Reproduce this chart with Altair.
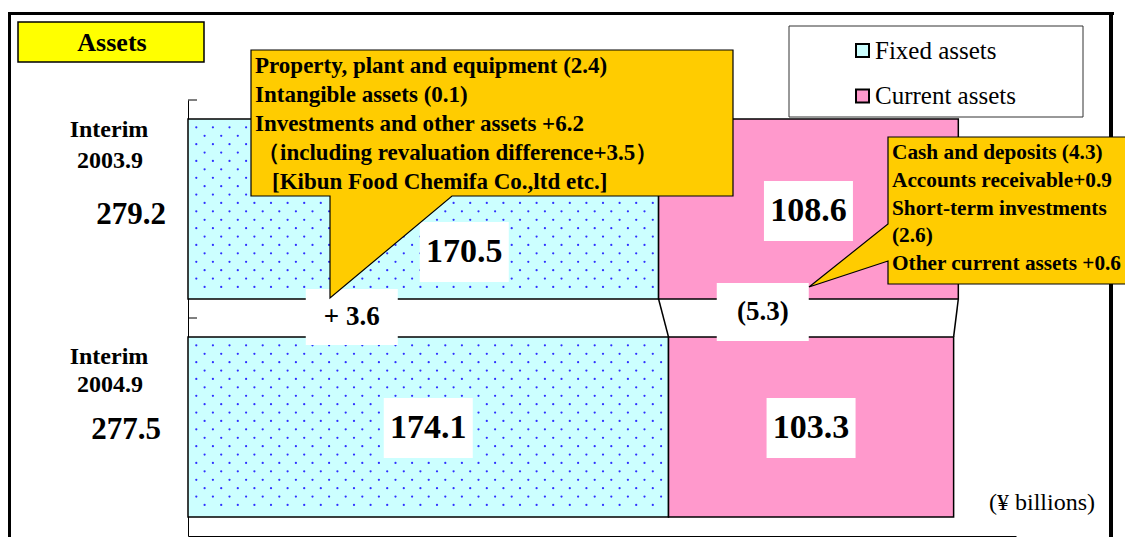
import altair as alt
import pandas as pd
import numpy as np

# ---------------- data ----------------
periods = ["2003.9", "2004.9"]
period_word = ["Interim", "Interim"]
segments = ["Fixed assets", "Current assets"]
fixed_assets = [170.5, 174.1]
current_assets = [108.6, 103.3]
totals = ["279.2", "277.5"]
change_labels = ["+ 3.6", "(5.3)"]          # fixed, current
callout_fixed = [
    "Property, plant and equipment (2.4)",
    "Intangible assets (0.1)",
    "Investments and other assets +6.2",
    "（including revaluation difference+3.5）",
    "[Kibun Food Chemifa Co.,ltd etc.]",
]
callout_current = [
    "Cash and deposits (4.3)",
    "Accounts receivable+0.9",
    "Short-term investments",
    "(2.6)",
    "Other current assets +0.6",
]
title_text = "Assets"
unit_text = "(¥ billions)"

# ---------------- layout / style ----------------
W, H = 828, 436
X_MAX = 300
PAD = 0.087                      # band padding (fraction of a band)
FONT = "Liberation Serif"
C_FIXED, C_CURR = "#CCFFFF", "#FF99CC"
C_CALLOUT = "#FFCC00"

xs = alt.Scale(domain=[0, X_MAX], nice=False, zero=True)
ys = alt.Scale(domain=[0, 2], reverse=True, nice=False, zero=True)


def X(f):
    return alt.X(f, type="quantitative", scale=xs, title=None)


def Y(f):
    return alt.Y(f, type="quantitative", scale=ys, title=None)


one = pd.DataFrame({"a": [0]})

# bars
rows = []
for i, p in enumerate(periods):
    f, c = fixed_assets[i], current_assets[i]
    rows.append(dict(period=p, segment=segments[0], start=0.0, end=f,
                     top=i + PAD, bottom=i + 1 - PAD))
    rows.append(dict(period=p, segment=segments[1], start=f, end=f + c,
                     top=i + PAD, bottom=i + 1 - PAD))
bars_df = pd.DataFrame(rows)

bars = alt.Chart(bars_df).mark_rect(stroke="black", strokeWidth=1.5).encode(
    x=X("start"), x2="end",
    y=Y("top"), y2="bottom",
    fill=alt.Fill("segment:N",
                  scale=alt.Scale(domain=segments, range=[C_FIXED, C_CURR]),
                  legend=alt.Legend(title=None, orient="none", legendX=662, legendY=-62,
                                    direction="vertical", symbolType="square",
                                    symbolSize=169, symbolStrokeColor="black",
                                    symbolStrokeWidth=2, labelFont=FONT,
                                    labelFontSize=25, labelColor="black",
                                    labelOffset=0, rowPadding=19.5, padding=0)),
)

# dotted texture inside the fixed-asset bars
XSTEP = 16.6 / (W / X_MAX)
YSTEP = 8.4 / (H / 2)
tex = []
for i, f in enumerate(fixed_assets):
    top, bottom = i + PAD, i + 1 - PAD
    k = 0
    while top + YSTEP * (k + 1) < bottom - YSTEP * 0.5:
        yy = top + YSTEP * (k + 1)
        j = 0
        while True:
            xx = XSTEP * (0.5 + j + 0.5 * (k % 2))
            if xx > f - XSTEP * 0.2:
                break
            tex.append(dict(x=xx, y=yy))
            j += 1
        k += 1
tex_df = pd.DataFrame(tex)
dots = alt.Chart(tex_df).mark_circle(size=5, color="#2f2fff", opacity=1).encode(
    x=X("x"), y=Y("y"))

# series lines between the bars
sl_df = pd.DataFrame({
    "x": [fixed_assets[0], fixed_assets[0] + current_assets[0]],
    "x2": [fixed_assets[1], fixed_assets[1] + current_assets[1]],
    "y": [1 - PAD, 1 - PAD],
    "y2": [1 + PAD, 1 + PAD],
})
series_lines = alt.Chart(sl_df).mark_rule(color="black", strokeWidth=1.5).encode(
    x=X("x"), x2="x2", y=Y("y"), y2="y2")

# inward ticks on the category axis
ticks = alt.Chart(pd.DataFrame({"t": [0, 1]})).mark_rule(color="black", strokeWidth=1).encode(
    y=Y("t"), x=alt.value(0), x2=alt.value(9))


def boxed_label(xv, yv, text, dx, dy, size, bw, bh):
    d = pd.DataFrame({"x": [xv], "y": [yv], "t": [text]})
    base = alt.Chart(d).encode(x=X("x"), y=Y("y"))
    box = base.mark_rect(width=bw, height=bh, fill="white", xOffset=dx, yOffset=dy)
    txt = base.mark_text(font=FONT, fontWeight="bold", fontSize=size, color="black",
                         dx=dx, dy=dy, baseline="middle", align="center").encode(text="t:N")
    return [box, txt]


labels = []
# values inside bars
labels += boxed_label(fixed_assets[0] / 2, 0.5, f"{fixed_assets[0]}", 41, 43, 34, 89, 60)
labels += boxed_label(fixed_assets[0] + current_assets[0] / 2, 0.5, f"{current_assets[0]}", 0, 2, 34, 89, 60)
labels += boxed_label(fixed_assets[1] / 2, 1.5, f"{fixed_assets[1]}", 0, 1, 34, 89, 60)
labels += boxed_label(fixed_assets[1] + current_assets[1] / 2, 1.5, f"{current_assets[1]}", 0, 1, 34, 89, 60)
# changes in the gap
mid_f = (fixed_assets[0] + fixed_assets[1]) / 4
mid_c = (fixed_assets[0] + current_assets[0] / 2 + fixed_assets[1] + current_assets[1] / 2) / 2
labels += boxed_label(mid_f, 1.0, change_labels[0], -74, -1, 27, 92, 56)
labels += boxed_label(mid_c, 1.0, change_labels[1], -47, -6, 27, 92, 58)


def shape(path):
    return alt.Chart(one).mark_point(shape=path, size=4, filled=True, fill=C_CALLOUT,
                                     stroke="black", strokeWidth=1.2, opacity=1).encode(
        x=alt.value(0), y=alt.value(0))


callout1 = shape("M63,-50L545,-50L545,96L264,96L142,198L142,96L63,96Z")
callout2 = shape("M700,37L960,37L960,184L700,184L700,161L621,187L700,124Z")


def block_text(lines, x, y, lh, size, indents):
    out = []
    for i, line in enumerate(lines):
        d = pd.DataFrame({"t": [line]})
        out.append(alt.Chart(d).mark_text(align="left", baseline="alphabetic",
                                          font=FONT, fontWeight="bold",
                                          fontSize=size, color="black").encode(
            text="t:N", x=alt.value(x + indents[i]), y=alt.value(y + i * lh)))
    return out


callout1_text = block_text(callout_fixed, 67, -27, 29, 23, [0, 0, 0, 2, 17])
callout2_text = block_text(callout_current, 704, 59, 27.8, 21.3, [0, 0, 0, 0, 0])

# category labels
cat_layers = []
word_dy = [-72, -63]
date_dy = [-41, -35]
tot_dy = [15, 12]
tot_x = [-57, -62]
for i, p in enumerate(periods):
    d = pd.DataFrame({"y": [i + 0.5], "w": [period_word[i]], "p": [p], "tot": [totals[i]]})
    base = alt.Chart(d).encode(y=Y("y"))
    common = dict(font=FONT, fontWeight="bold", color="black", align="center", baseline="alphabetic")
    cat_layers.append(base.mark_text(fontSize=24, dy=word_dy[i], **common).encode(
        text="w:N", x=alt.value(-79)))
    cat_layers.append(base.mark_text(fontSize=24, dy=date_dy[i], **common).encode(
        text="p:N", x=alt.value(-78)))
    cat_layers.append(base.mark_text(fontSize=31, dy=tot_dy[i], **common).encode(
        text="tot:N", x=alt.value(tot_x[i])))

# frame, title box, legend box, unit
frame = [
    alt.Chart(one).mark_rule(color="black", strokeWidth=3).encode(
        x=alt.value(-180), x2=alt.value(926), y=alt.value(-86.5)),
    alt.Chart(one).mark_rule(color="black", strokeWidth=3).encode(
        x=alt.value(-178.5), y=alt.value(-88), y2=alt.value(440)),
    alt.Chart(one).mark_rule(color="black", strokeWidth=4).encode(
        x=alt.value(923), y=alt.value(-88), y2=alt.value(440)),
]
title_box = alt.Chart(one).mark_rect(fill="#FFFF00", stroke="black", strokeWidth=1.5).encode(
    x=alt.value(-170), x2=alt.value(16), y=alt.value(-78), y2=alt.value(-38))
title_txt = alt.Chart(pd.DataFrame({"t": [title_text]})).mark_text(
    font=FONT, fontWeight="bold", fontSize=26, color="black", align="center",
    baseline="alphabetic").encode(text="t:N", x=alt.value(-76), y=alt.value(-49))
legend_box = alt.Chart(one).mark_rect(fill="white", stroke="#333333", strokeWidth=1).encode(
    x=alt.value(601), x2=alt.value(895), y=alt.value(-74), y2=alt.value(17))
legend_dot = alt.Chart(one).mark_circle(size=5, color="#2f2fff", opacity=1).encode(
    x=alt.value(675.5), y=alt.value(-49.5))
unit_txt = alt.Chart(pd.DataFrame({"t": [unit_text]})).mark_text(
    font=FONT, fontSize=24, color="black", align="center",
    baseline="alphabetic").encode(text="t:N", x=alt.value(854), y=alt.value(410))

chart = alt.layer(
    *frame, title_box, title_txt, legend_box,
    bars, dots, series_lines, ticks,
    *labels,
    callout1, callout2, *callout1_text, *callout2_text,
    *cat_layers, unit_txt, legend_dot,
).properties(
    width=W, height=H,
    padding={"left": 180, "top": 92, "right": 109, "bottom": 1},
    autosize=alt.AutoSizeParams(type="none"),
).configure_view(strokeWidth=0).configure_axis(
    labels=False, ticks=False, grid=False, domainColor="black", domainWidth=1, title=None
)

chart.save("out.html", embed_options={"renderer": "svg", "actions": False})
